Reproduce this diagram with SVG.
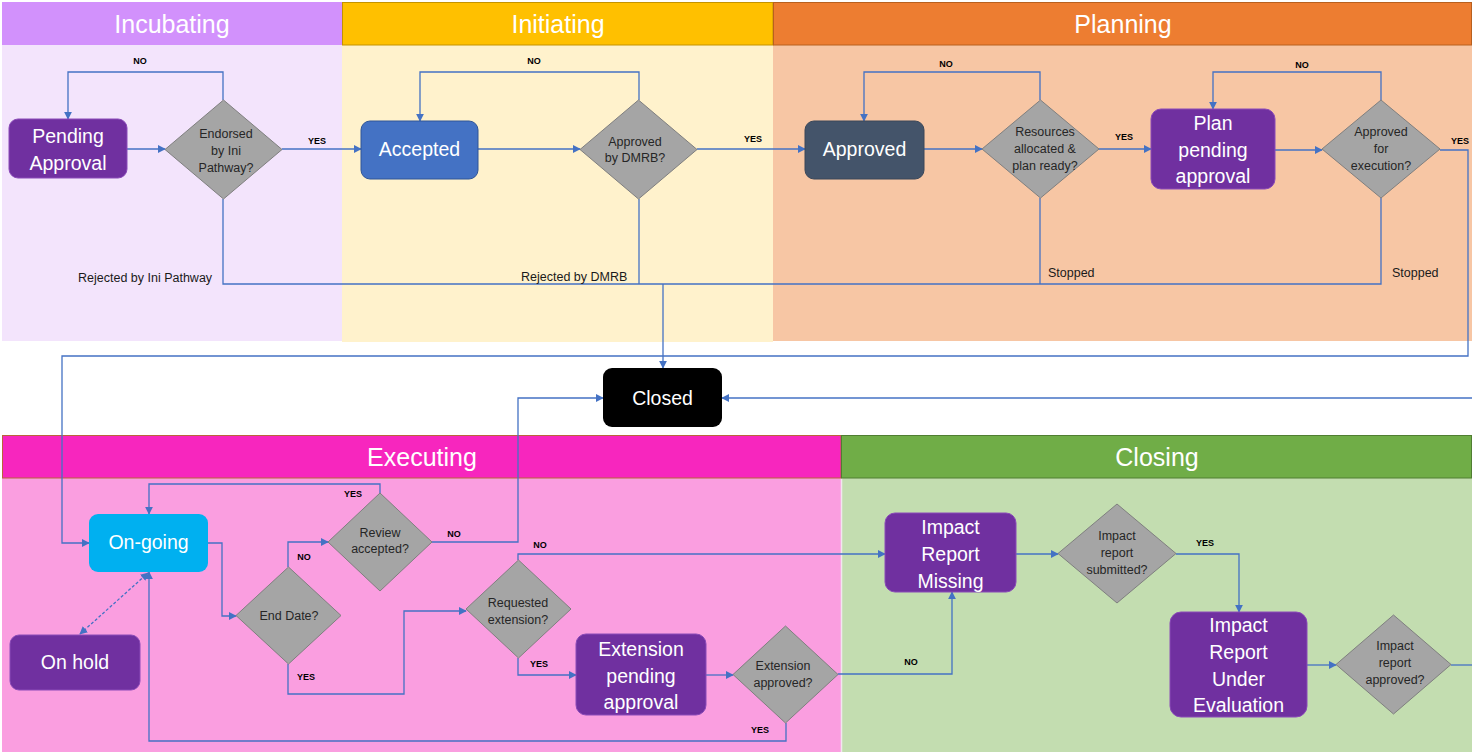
<svg xmlns="http://www.w3.org/2000/svg" width="1472" height="752" viewBox="0 0 1472 752">
<defs>
<marker id="arr" viewBox="0 0 10 10" refX="9" refY="5" markerWidth="8" markerHeight="8" markerUnits="userSpaceOnUse" orient="auto"><path d="M0,0 L10,5 L0,10 z" fill="#4472C4"/></marker>
<marker id="arrs" viewBox="0 0 10 10" refX="1" refY="5" markerWidth="8" markerHeight="8" markerUnits="userSpaceOnUse" orient="auto"><path d="M10,0 L0,5 L10,10 z" fill="#4472C4"/></marker>
<style>
.hdr{font-family:"Liberation Sans",Arial,sans-serif;font-size:25px;fill:#fff;text-anchor:middle}
.nt{font-family:"Liberation Sans",Arial,sans-serif;font-size:19.5px;fill:#fff;text-anchor:middle}
.dt{font-family:"Liberation Sans",Arial,sans-serif;font-size:12.5px;fill:#262626;text-anchor:middle}
.lb{font-family:"Liberation Sans",Arial,sans-serif;font-size:9px;font-weight:bold;fill:#000;text-anchor:middle}
.tx{font-family:"Liberation Sans",Arial,sans-serif;font-size:12.5px;fill:#1a1a1a}
.dia{fill:#A5A5A5;stroke:#7F7F7F;stroke-width:1}
.c{fill:none;stroke:#4472C4;stroke-width:1.3}
.ca{fill:none;stroke:#4472C4;stroke-width:1.3;marker-end:url(#arr)}
.purple{fill:#7030A0;stroke:#8A4AB8;stroke-width:1}
</style>
</defs>
<rect width="1472" height="752" fill="#fff"/>
<g id="lanes">
<rect x="2" y="45" width="340" height="296" fill="#F3E4FC"/>
<rect x="342" y="45" width="431" height="297" fill="#FFF2CC"/>
<rect x="773" y="45" width="699" height="296" fill="#F7C6A4"/>
<rect x="2" y="478" width="839" height="274" fill="#FA9EE0"/>
<rect x="841" y="478" width="631" height="274" fill="#C3DDB0"/>
<line x1="841.5" y1="478" x2="841.5" y2="752" stroke="#F2E6EE" stroke-width="1.5"/>
<rect x="2" y="2" width="340" height="43" fill="#D291FC"/>
<rect x="342.5" y="2.5" width="430.5" height="42.5" fill="#FFC000" stroke="#C49300" stroke-width="1"/>
<rect x="773.5" y="2.5" width="698" height="42.5" fill="#ED7D31" stroke="#B8601F" stroke-width="1"/>
<rect x="2.5" y="435.5" width="838.5" height="42.5" fill="#F726BE" stroke="#B9643A" stroke-width="1"/>
<rect x="841.5" y="435.5" width="630" height="42.5" fill="#70AD47" stroke="#507E32" stroke-width="1"/>
<text class="hdr" x="172" y="33">Incubating</text>
<text class="hdr" x="558" y="33">Initiating</text>
<text class="hdr" x="1123" y="33">Planning</text>
<text class="hdr" x="422" y="466">Executing</text>
<text class="hdr" x="1157" y="466">Closing</text>
</g>
<g id="connectors">
<path class="ca" d="M127,149 H165"/>
<path class="ca" d="M223,100 V72 H68 V119"/>
<path class="ca" d="M282,149 H361"/>
<path class="ca" d="M478,149 H580"/>
<path class="ca" d="M639,100 V72 H420 V121"/>
<path class="ca" d="M697,149 H805"/>
<path class="ca" d="M924,149 H982"/>
<path class="ca" d="M1040,100 V72 H864 V121"/>
<path class="ca" d="M1099,149 H1151"/>
<path class="ca" d="M1275,150 H1322"/>
<path class="ca" d="M1381,100 V72 H1213 V109"/>
<path class="ca" d="M1440,150 H1468 V356 H62 V543 H89"/>
<path class="c" d="M223,199 V284 H1381 V198"/>
<path class="c" d="M639,199 V284"/>
<path class="c" d="M1040,198 V284"/>
<path class="ca" d="M663,284 V368"/>
<path class="ca" d="M208,543 H222 V616 H236"/>
<path class="ca" d="M288,567 V542 H328"/>
<path class="ca" d="M288,664 V694 H404 V611 H466"/>
<path class="ca" d="M380,493 V484 H149 V514"/>
<path class="ca" d="M432,542 H518 V398 H603"/>
<path class="ca" d="M518,560 V554 H885"/>
<path class="ca" d="M518,658 V675 H576"/>
<path class="ca" d="M706,675 H733"/>
<path class="ca" d="M786,723 V741 H149 V572"/>
<path class="ca" d="M838,674 H952 V592"/>
<path class="ca" d="M1016,554 H1058"/>
<path class="ca" d="M1176,554 H1239 V612"/>
<path class="ca" d="M1307,665 H1336"/>
<path class="c" d="M1451,665 H1472"/>
<path class="ca" d="M1472,398 H722"/>
<path fill="none" stroke="#4472C4" stroke-width="1.3" stroke-dasharray="3,2" marker-start="url(#arrs)" marker-end="url(#arr)" d="M80,634 L148,573"/>
<text class="lb" x="140" y="64">NO</text>
<text class="lb" x="534" y="64">NO</text>
<text class="lb" x="946" y="67">NO</text>
<text class="lb" x="1302" y="68">NO</text>
<text class="lb" x="317" y="144">YES</text>
<text class="lb" x="753" y="142">YES</text>
<text class="lb" x="1124" y="140">YES</text>
<text class="lb" x="1460" y="144">YES</text>
<text class="tx" x="78" y="282">Rejected by Ini Pathway</text>
<text class="tx" x="521" y="281">Rejected by DMRB</text>
<text class="tx" x="1048" y="277">Stopped</text>
<text class="tx" x="1392" y="277">Stopped</text>
<text class="lb" x="353" y="497">YES</text>
<text class="lb" x="454" y="537">NO</text>
<text class="lb" x="304" y="560">NO</text>
<text class="lb" x="306" y="680">YES</text>
<text class="lb" x="540" y="548">NO</text>
<text class="lb" x="539" y="667">YES</text>
<text class="lb" x="760" y="733">YES</text>
<text class="lb" x="911" y="665">NO</text>
<text class="lb" x="1205" y="546">YES</text>
</g>
<g id="pending-approval">
<rect class="purple" x="9" y="119" width="118" height="59" rx="9"/>
<text class="nt" x="68" y="143">Pending</text>
<text class="nt" x="68" y="170">Approval</text>
</g>
<g id="endorsed">
<polygon class="dia" points="223.5,100 282,149.5 223.5,199 165,149.5"/>
<text class="dt" x="226" y="138">Endorsed</text>
<text class="dt" x="226" y="155">by Ini</text>
<text class="dt" x="226" y="172">Pathway?</text>
</g>
<g id="accepted">
<rect x="361" y="121" width="117" height="58" rx="9" fill="#4472C4" stroke="#2F5597" stroke-width="1"/>
<text class="nt" x="419.5" y="156">Accepted</text>
</g>
<g id="dmrb">
<polygon class="dia" points="638.5,100 697,149.5 638.5,199 580,149.5"/>
<text class="dt" x="635" y="146">Approved</text>
<text class="dt" x="635" y="162">by DMRB?</text>
</g>
<g id="approved">
<rect x="805" y="121" width="119" height="58" rx="9" fill="#44546A" stroke="#3A4759" stroke-width="1"/>
<text class="nt" x="864.5" y="156">Approved</text>
</g>
<g id="resources">
<polygon class="dia" points="1040.5,100 1099,149 1040.5,198 982,149"/>
<text class="dt" x="1045" y="136">Resources</text>
<text class="dt" x="1045" y="153">allocated &amp;</text>
<text class="dt" x="1045" y="170">plan ready?</text>
</g>
<g id="plan-pending">
<rect class="purple" x="1151" y="109" width="124" height="80" rx="10"/>
<text class="nt" x="1213" y="130">Plan</text>
<text class="nt" x="1213" y="157">pending</text>
<text class="nt" x="1213" y="183">approval</text>
</g>
<g id="approved-exec">
<polygon class="dia" points="1381,100 1440,149 1381,198 1322,149"/>
<text class="dt" x="1381" y="136">Approved</text>
<text class="dt" x="1381" y="153">for</text>
<text class="dt" x="1381" y="170">execution?</text>
</g>
<g id="closed">
<rect x="603" y="368" width="119" height="59" rx="9" fill="#000"/>
<text class="nt" x="662.5" y="405">Closed</text>
</g>
<g id="on-going">
<rect x="89" y="514" width="119" height="58" rx="9" fill="#00B0F0"/>
<text class="nt" x="148.5" y="549">On-going</text>
</g>
<g id="on-hold">
<rect class="purple" x="10" y="635" width="130" height="55" rx="9"/>
<text class="nt" x="75" y="669">On hold</text>
</g>
<g id="end-date">
<polygon class="dia" points="288.5,567 341,615.5 288.5,664 236,615.5"/>
<text class="dt" x="289" y="620">End Date?</text>
</g>
<g id="review">
<polygon class="dia" points="380,493 432,542 380,591 328,542"/>
<text class="dt" x="380" y="537">Review</text>
<text class="dt" x="380" y="553">accepted?</text>
</g>
<g id="requested">
<polygon class="dia" points="518.5,560 571,609 518.5,658 466,609"/>
<text class="dt" x="518" y="607">Requested</text>
<text class="dt" x="518" y="624">extension?</text>
</g>
<g id="extension-pending">
<rect class="purple" x="576" y="634" width="130" height="81" rx="10"/>
<text class="nt" x="641" y="656">Extension</text>
<text class="nt" x="641" y="683">pending</text>
<text class="nt" x="641" y="709">approval</text>
</g>
<g id="extension-approved">
<polygon class="dia" points="785.5,626 838,674.5 785.5,723 733,674.5"/>
<text class="dt" x="783" y="670">Extension</text>
<text class="dt" x="783" y="687">approved?</text>
</g>
<g id="impact-missing">
<rect class="purple" x="885" y="513" width="131" height="79" rx="10"/>
<text class="nt" x="950.5" y="534">Impact</text>
<text class="nt" x="950.5" y="561">Report</text>
<text class="nt" x="950.5" y="588">Missing</text>
</g>
<g id="impact-submitted">
<polygon class="dia" points="1117,504 1176,553.5 1117,603 1058,553.5"/>
<text class="dt" x="1117" y="540">Impact</text>
<text class="dt" x="1117" y="557">report</text>
<text class="dt" x="1117" y="574">submitted?</text>
</g>
<g id="impact-evaluation">
<rect class="purple" x="1170" y="612" width="137" height="105" rx="11"/>
<text class="nt" x="1238.5" y="632">Impact</text>
<text class="nt" x="1238.5" y="659">Report</text>
<text class="nt" x="1238.5" y="686">Under</text>
<text class="nt" x="1238.5" y="712">Evaluation</text>
</g>
<g id="impact-approved">
<polygon class="dia" points="1393.5,615 1451,664.5 1393.5,714 1336,664.5"/>
<text class="dt" x="1395" y="650">Impact</text>
<text class="dt" x="1395" y="667">report</text>
<text class="dt" x="1395" y="684">approved?</text>
</g>
</svg>
